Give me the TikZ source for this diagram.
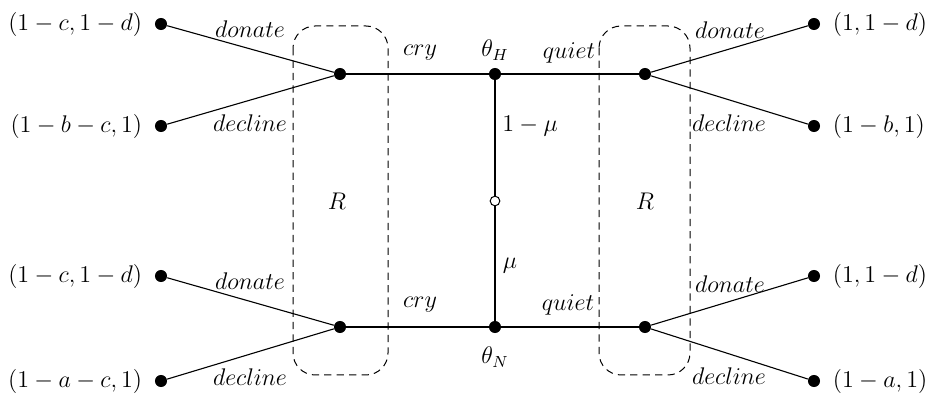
\documentclass[tikz,border=0pt]{standalone}
\usepackage{amsmath,amssymb}
\usepackage{tikz}
\usetikzlibrary{positioning}
\tikzset{
    dot/.style={
        circle,
        fill=black,
        inner sep=0pt,
        minimum size=6pt,
    },
    chance/.style={
        circle,
        draw=black,
        fill=white,
        inner sep=0pt,
        minimum size=4.8pt,
        line width=0.5pt,
    },
    move/.style={
        line width=0.55pt,
    },
    infoset/.style={
        draw,
        dash pattern=on 3.6pt off 2.6pt,
        rounded corners=11pt,
        line width=0.5pt,
    },
    payoff/.style={
        inner sep=1pt,
    },
}

\begin{document}
\begin{tikzpicture}[x=0.0175cm, y=-0.0175cm, font=\large]
    \useasboundingbox (0,0) rectangle (951,395);

    % information sets of the receiver
    \draw[infoset] (293,26) rectangle (388,375);
    \draw[infoset] (599,26) rectangle (690,375);
    \node (rleft) at (337,201) {$R$};
    \node (rright) at (645,201) {$R$};

    % nature and sender
    \node[chance] (nature) at (495,201) {};
    \node[dot] (thetah) at (495,74) {};
    \node[dot] (thetan) at (495,327) {};

    % receiver decision points
    \node[dot] (hcry) at (340,74) {};
    \node[dot] (ncry) at (340,327) {};
    \node[dot] (hquiet) at (645,74) {};
    \node[dot] (nquiet) at (645,327) {};

    % terminal nodes
    \node[dot] (hcd) at (161,24) {};
    \node[dot] (hcn) at (161,126) {};
    \node[dot] (ncd) at (161,276) {};
    \node[dot] (ncn) at (161,381) {};
    \node[dot] (hqd) at (814,24) {};
    \node[dot] (hqn) at (814,126) {};
    \node[dot] (nqd) at (814,276) {};
    \node[dot] (nqn) at (814,381) {};

    % payoffs
    \node[payoff, left=5pt of hcd] (phcd) {$(1-c,1-d)$};
    \node[payoff, left=5pt of hcn] (phcn) {$(1-b-c,1)$};
    \node[payoff, left=5pt of ncd] (pncd) {$(1-c,1-d)$};
    \node[payoff, left=5pt of ncn] (pncn) {$(1-a-c,1)$};
    \node[payoff, right=5pt of hqd] (phqd) {$(1,1-d)$};
    \node[payoff, right=5pt of hqn] (phqn) {$(1-b,1)$};
    \node[payoff, right=5pt of nqd] (pnqd) {$(1,1-d)$};
    \node[payoff, right=5pt of nqn] (pnqn) {$(1-a,1)$};

    % moves
    \draw[move] (thetah) -- (nature);
    \draw[move] (nature) -- (thetan);
    \draw[move] (hcry) -- (thetah);
    \draw[move] (thetah) -- (hquiet);
    \draw[move] (ncry) -- (thetan);
    \draw[move] (thetan) -- (nquiet);
    \draw[move] (hcry) -- (hcd);
    \draw[move] (hcry) -- (hcn);
    \draw[move] (ncry) -- (ncd);
    \draw[move] (ncry) -- (ncn);
    \draw[move] (hquiet) -- (hqd);
    \draw[move] (hquiet) -- (hqn);
    \draw[move] (nquiet) -- (nqd);
    \draw[move] (nquiet) -- (nqn);

    % labels
    \node (lthetah) at (495,50) {$\theta_H$};
    \node (lthetan) at (495,357) {$\theta_N$};
    \node (lhigh) at (530,126) {$1-\mu$};
    \node (llow) at (510,266) {$\mu$};
    \node (lhcry) at (420,53) {$cry$};
    \node (lncry) at (420,305) {$cry$};
    \node (lhquiet) at (569,53) {$quiet$};
    \node (lnquiet) at (568,305) {$quiet$};
    \node (lhcd) at (250,29) {$donate$};
    \node (lhcn) at (250,123) {$decline$};
    \node (lncd) at (250,281) {$donate$};
    \node (lncn) at (250,377) {$decline$};
    \node (lhqd) at (730,30) {$donate$};
    \node (lhqn) at (729,123) {$decline$};
    \node (lnqd) at (730,284) {$donate$};
    \node (lnqn) at (729,376) {$decline$};
\end{tikzpicture}
\end{document}
